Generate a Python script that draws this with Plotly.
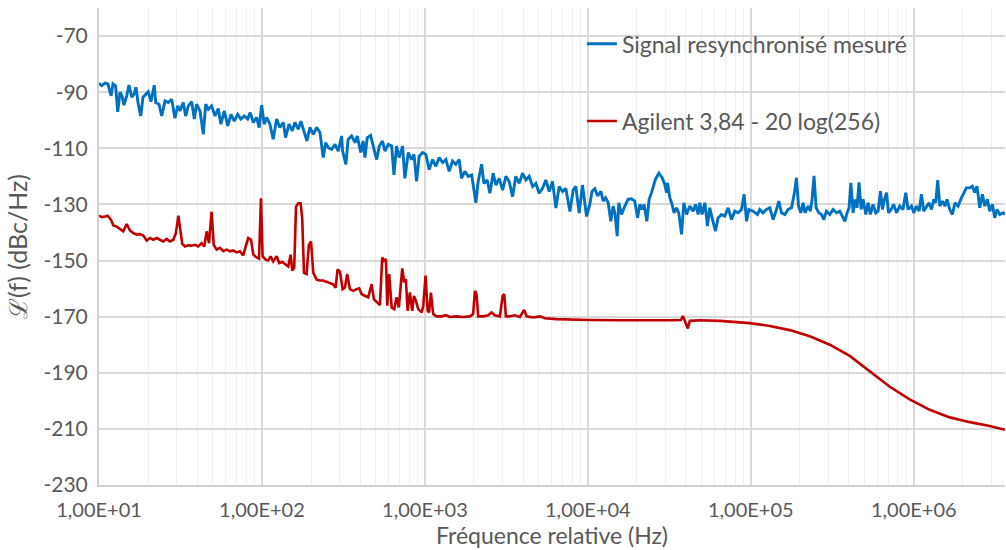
import plotly.graph_objects as go

# Frequency positions stored as decades (log10 of Hz), values in dBc/Hz
blue_logf = [1.000, 1.017, 1.037, 1.055, 1.074, 1.086, 1.102, 1.115, 1.129, 1.141, 1.153, 1.170, 1.184, 1.201, 1.215, 1.227, 1.239, 1.256, 1.270, 1.287,
             1.302, 1.319, 1.339, 1.348, 1.368, 1.385, 1.405, 1.425, 1.446, 1.466, 1.483, 1.497, 1.517, 1.532, 1.548, 1.569, 1.585, 1.599, 1.620, 1.640,
             1.655, 1.671, 1.691, 1.712, 1.732, 1.748, 1.769, 1.790, 1.810, 1.830, 1.851, 1.871, 1.891, 1.912, 1.928, 1.947, 1.967, 1.983, 1.998, 2.014,
             2.029, 2.049, 2.069, 2.090, 2.110, 2.131, 2.145, 2.166, 2.186, 2.202, 2.223, 2.239, 2.260, 2.276, 2.294, 2.315, 2.336, 2.356, 2.376, 2.391,
             2.407, 2.428, 2.448, 2.468, 2.489, 2.495, 2.515, 2.529, 2.550, 2.571, 2.585, 2.606, 2.621, 2.632, 2.646, 2.667, 2.683, 2.704, 2.720, 2.740,
             2.755, 2.775, 2.796, 2.810, 2.826, 2.842, 2.863, 2.877, 2.898, 2.918, 2.933, 2.949, 2.965, 2.986, 3.006, 3.026, 3.047, 3.067, 3.088, 3.109,
             3.129, 3.149, 3.170, 3.190, 3.210, 3.225, 3.245, 3.266, 3.287, 3.313, 3.327, 3.348, 3.362, 3.382, 3.399, 3.419, 3.436, 3.456, 3.477, 3.497,
             3.517, 3.538, 3.558, 3.579, 3.599, 3.620, 3.640, 3.661, 3.681, 3.701, 3.722, 3.742, 3.763, 3.783, 3.804, 3.824, 3.845, 3.865, 3.890, 3.910,
             3.926, 3.947, 3.967, 3.992, 4.012, 4.026, 4.043, 4.060, 4.080, 4.094, 4.109, 4.125, 4.141, 4.155, 4.166, 4.180, 4.190, 4.207, 4.227, 4.247,
             4.268, 4.288, 4.305, 4.319, 4.333, 4.345, 4.362, 4.376, 4.391, 4.401, 4.415, 4.436, 4.456, 4.472, 4.483, 4.489, 4.503, 4.517, 4.529, 4.544,
             4.558, 4.575, 4.589, 4.606, 4.626, 4.646, 4.661, 4.677, 4.687, 4.701, 4.718, 4.734, 4.748, 4.765, 4.783, 4.799, 4.820, 4.840, 4.861, 4.882,
             4.902, 4.922, 4.943, 4.959, 4.974, 4.988, 5.014, 5.041, 5.055, 5.075, 5.096, 5.117, 5.137, 5.158, 5.172, 5.188, 5.209, 5.229, 5.250, 5.268,
             5.280, 5.293, 5.307, 5.321, 5.333, 5.352, 5.366, 5.376, 5.388, 5.401, 5.417, 5.434, 5.448, 5.464, 5.485, 5.505, 5.526, 5.546, 5.563, 5.577,
             5.591, 5.603, 5.614, 5.628, 5.640, 5.652, 5.664, 5.677, 5.689, 5.706, 5.720, 5.734, 5.750, 5.767, 5.781, 5.796, 5.808, 5.820, 5.833, 5.845,
             5.861, 5.877, 5.894, 5.914, 5.934, 5.951, 5.965, 5.986, 6.000, 6.017, 6.033, 6.047, 6.061, 6.078, 6.094, 6.109, 6.123, 6.135, 6.147, 6.160,
             6.176, 6.192, 6.204, 6.221, 6.237, 6.253, 6.272, 6.293, 6.307, 6.323, 6.344, 6.360, 6.374, 6.388, 6.405, 6.421, 6.436, 6.452, 6.466, 6.483,
             6.497, 6.511, 6.528, 6.548, 6.560]
blue_db = [-86.8, -87.7, -86.8, -87.1, -91.3, -87.0, -87.7, -97.0, -90.0, -91.3, -94.6, -91.3, -87.5, -91.8, -90.7, -88.2, -93.6, -98.5, -91.8, -90.7,
           -89.9, -93.4, -87.5, -93.7, -94.3, -98.5, -93.1, -93.7, -92.5, -99.3, -94.9, -96.7, -93.7, -98.5, -94.9, -93.4, -99.6, -94.3, -96.7, -105.0,
           -94.3, -96.1, -94.9, -98.5, -95.8, -101.4, -96.7, -102.0, -97.9, -100.3, -97.9, -99.6, -98.5, -99.6, -97.3, -100.8, -99.0, -102.6, -94.6, -101.4,
           -99.0, -101.4, -106.8, -99.6, -102.6, -100.8, -106.2, -101.4, -103.8, -100.8, -103.2, -100.3, -104.4, -107.4, -102.6, -105.0, -102.6, -104.4, -113.3, -108.0,
           -109.8, -110.4, -108.6, -111.0, -105.6, -111.0, -115.7, -106.8, -105.6, -108.0, -105.6, -111.5, -107.4, -113.3, -106.3, -105.4, -109.2, -114.0, -109.2, -107.4,
           -111.0, -108.6, -109.2, -119.5, -109.2, -113.3, -109.2, -120.7, -111.5, -114.0, -112.2, -121.8, -112.8, -111.5, -112.2, -117.6, -114.0, -116.4, -113.3, -115.1,
           -114.0, -118.2, -114.5, -115.7, -114.0, -120.7, -118.2, -120.0, -119.5, -129.4, -121.8, -115.7, -122.5, -121.3, -126.0, -118.9, -123.1, -120.7, -124.9, -120.0,
           -121.8, -127.2, -120.0, -122.5, -118.9, -121.3, -120.0, -123.6, -122.5, -126.0, -124.3, -121.3, -125.4, -121.8, -131.3, -123.6, -125.4, -124.3, -132.5, -124.9,
           -123.6, -133.1, -123.1, -134.3, -130.0, -125.3, -124.4, -127.0, -125.3, -128.8, -127.6, -129.4, -136.0, -130.6, -133.0, -141.3, -129.4, -133.6, -130.6, -128.2,
           -128.0, -128.8, -134.8, -130.0, -131.8, -130.0, -136.0, -128.2, -125.8, -123.5, -121.0, -118.9, -120.5, -122.9, -125.8, -122.3, -127.6, -130.0, -133.0, -131.2,
           -133.0, -140.7, -129.4, -133.6, -130.6, -132.4, -130.0, -133.6, -129.4, -133.6, -129.4, -137.7, -131.2, -135.4, -139.5, -134.8, -133.6, -134.2, -131.2, -135.4,
           -132.4, -133.0, -131.8, -126.4, -136.0, -131.8, -132.4, -133.6, -131.8, -133.0, -131.8, -131.2, -135.4, -131.8, -128.8, -133.0, -133.6, -131.8, -131.2, -125.8,
           -120.5, -130.6, -133.0, -129.4, -133.0, -130.6, -132.4, -128.2, -119.8, -131.2, -133.0, -133.6, -135.4, -132.4, -133.6, -131.8, -133.0, -132.4, -134.2, -136.0,
           -133.0, -131.2, -122.3, -133.0, -128.2, -131.2, -122.1, -131.8, -128.2, -133.6, -129.4, -133.6, -130.0, -133.0, -132.4, -125.3, -131.8, -128.2, -125.8, -133.0,
           -131.8, -130.0, -133.0, -130.6, -131.8, -125.8, -131.8, -130.6, -133.0, -130.6, -132.4, -126.4, -132.4, -130.6, -129.4, -131.8, -128.2, -129.4, -121.3, -130.6,
           -128.8, -130.6, -128.2, -131.8, -133.6, -129.4, -130.6, -127.6, -125.8, -124.1, -124.1, -123.5, -125.8, -123.5, -131.2, -126.4, -130.6, -128.2, -132.4, -130.0,
           -134.8, -131.8, -133.6, -133.0, -133.6]

red_logf = [1.000, 1.017, 1.037, 1.053, 1.074, 1.088, 1.109, 1.129, 1.149, 1.170, 1.190, 1.210, 1.231, 1.252, 1.272, 1.293, 1.313, 1.333, 1.354, 1.374,
            1.394, 1.415, 1.436, 1.456, 1.472, 1.487, 1.501, 1.511, 1.528, 1.548, 1.569, 1.589, 1.609, 1.630, 1.646, 1.661, 1.675, 1.691, 1.704, 1.722,
            1.742, 1.763, 1.783, 1.804, 1.824, 1.845, 1.865, 1.885, 1.900, 1.916, 1.933, 1.947, 1.967, 1.982, 1.994, 2.004, 2.023, 2.039, 2.053, 2.069,
            2.090, 2.106, 2.125, 2.145, 2.161, 2.176, 2.186, 2.198, 2.209, 2.223, 2.237, 2.247, 2.258, 2.274, 2.288, 2.301, 2.315, 2.336, 2.356, 2.376,
            2.397, 2.417, 2.437, 2.452, 2.464, 2.479, 2.495, 2.509, 2.523, 2.540, 2.560, 2.581, 2.597, 2.612, 2.632, 2.652, 2.673, 2.687, 2.707, 2.724,
            2.738, 2.748, 2.761, 2.769, 2.781, 2.796, 2.812, 2.826, 2.840, 2.861, 2.873, 2.883, 2.894, 2.908, 2.922, 2.933, 2.945, 2.959, 2.980, 2.990,
            3.004, 3.017, 3.026, 3.037, 3.051, 3.072, 3.102, 3.129, 3.153, 3.194, 3.235, 3.276, 3.296, 3.307, 3.317, 3.327, 3.358, 3.388, 3.409, 3.429,
            3.460, 3.477, 3.487, 3.497, 3.521, 3.552, 3.583, 3.609, 3.624, 3.664, 3.706, 3.736, 3.808, 3.910, 4.008, 4.196, 4.380, 4.534, 4.571, 4.583,
            4.595, 4.613, 4.626, 4.687, 4.810, 4.994, 5.117, 5.239, 5.362, 5.485, 5.607, 5.730, 5.853, 5.975, 6.098, 6.221, 6.344, 6.466, 6.560]
red_db = [-134.0, -134.5, -134.3, -134.0, -135.5, -137.5, -137.9, -138.8, -139.6, -137.0, -139.3, -140.2, -140.8, -140.6, -141.1, -142.9, -142.0, -142.6, -142.0, -142.6,
          -143.2, -142.3, -143.2, -142.6, -140.2, -134.0, -140.8, -144.1, -145.0, -144.6, -144.7, -144.4, -145.0, -143.8, -145.0, -139.6, -143.8, -132.6, -144.4, -146.1,
          -145.5, -146.7, -146.1, -146.7, -146.4, -147.1, -146.7, -148.2, -145.0, -142.0, -142.6, -147.9, -148.9, -149.3, -127.8, -148.5, -149.7, -150.0, -148.5, -150.3,
          -148.5, -150.9, -150.5, -151.5, -152.1, -147.9, -153.6, -152.6, -130.8, -129.6, -129.6, -134.9, -154.4, -154.8, -144.4, -143.2, -154.4, -156.8, -157.1, -157.1,
          -157.6, -157.9, -158.5, -159.7, -153.2, -154.0, -160.2, -159.6, -154.8, -160.2, -160.8, -160.2, -159.9, -162.0, -162.6, -163.1, -158.4, -163.8, -164.9, -165.9,
          -148.9, -150.1, -149.5, -166.1, -154.8, -166.7, -167.3, -163.1, -166.7, -152.8, -157.8, -156.6, -167.9, -161.4, -167.9, -162.6, -164.4, -167.3, -168.5, -166.1,
          -155.4, -167.9, -168.5, -161.4, -169.1, -169.9, -169.9, -169.5, -170.1, -169.9, -170.1, -169.9, -169.1, -160.8, -162.0, -169.9, -169.9, -169.5, -168.5, -169.5,
          -169.9, -162.6, -162.0, -169.9, -169.9, -169.5, -170.1, -167.6, -169.9, -170.3, -169.9, -170.6, -170.9, -171.1, -171.2, -171.3, -171.4, -171.3, -171.2, -169.8,
          -171.5, -174.2, -171.5, -171.3, -171.5, -172.3, -173.3, -174.8, -177.0, -180.0, -184.0, -189.5, -195.0, -199.5, -203.2, -205.9, -207.6, -209.0, -210.3]

series_names = ["Signal resynchronisé mesuré", "Agilent 3,84 - 20 log(256)"]
series_colors = ["#0070C0", "#C00000"]
x_tickvals = [1e1, 1e2, 1e3, 1e4, 1e5, 1e6]
x_ticktext = ["1,00E+01", "1,00E+02", "1,00E+03", "1,00E+04", "1,00E+05", "1,00E+06"]
y_tickvals = [-230, -210, -190, -170, -150, -130, -110, -90, -70]
y_ticktext = ["-230", "-210", "-190", "-170", "-150", "-130", "-110", "-90", "-70"]

blue_f = [10 ** v for v in blue_logf]
red_f = [10 ** v for v in red_logf]

FONT = "Lato"
TXT = "#595959"

fig = go.Figure()
fig.add_trace(go.Scatter(x=blue_f, y=blue_db, mode="lines", name=series_names[0], showlegend=True,
                         line=dict(color=series_colors[0], width=2.9), legend="legend"))
fig.add_trace(go.Scatter(x=red_f, y=red_db, mode="lines", name=series_names[1], showlegend=True,
                         line=dict(color=series_colors[1], width=2.6), legend="legend2"))

legend_common = dict(font=dict(family=FONT, size=23, color=TXT), bgcolor="rgba(0,0,0,0)",
                     borderwidth=0, xanchor="left", yanchor="middle", itemwidth=30)
fig.update_layout(
    width=1006, height=550,
    margin=dict(l=99, r=1, t=8, b=65, autoexpand=False),
    showlegend=True,
    paper_bgcolor="white", plot_bgcolor="white",
    font=dict(family=FONT, color=TXT),
    legend=dict(x=0.533, y=0.925, **legend_common),
    legend2=dict(x=0.533, y=0.763, **legend_common),
    xaxis=dict(type="log", range=[1, 6.56], tickvals=x_tickvals, ticktext=x_ticktext,
               automargin=False,
               showgrid=True, gridcolor="#d9d9d9", gridwidth=1.5,
               minor=dict(showgrid=True, gridcolor="#eeeeee", gridwidth=1.2, dtick="D1"),
               showline=True, linecolor="#d0d0d0", linewidth=1.5,
               ticks="", ticklabelstandoff=6, tickfont=dict(family=FONT, size=20, color=TXT),
               title=dict(text="Fréquence relative (Hz)", font=dict(family=FONT, size=23, color=TXT), standoff=0),
               zeroline=False),
    yaxis=dict(range=[-230, -60], tickvals=y_tickvals, ticktext=y_ticktext,
               automargin=False,
               showgrid=True, gridcolor="#d9d9d9", gridwidth=1.5,
               showline=True, linecolor="#d0d0d0", linewidth=2,
               ticks="", ticklabelstandoff=5, tickfont=dict(family=FONT, size=21, color=TXT),
               title=dict(text="ℒ(f) (dBc/Hz)", font=dict(family=FONT, size=25, color=TXT), standoff=9),
               zeroline=False),
)

# remove the default page margin so the 1006x550 figure fills the window exactly
fig.write_html("out.html", config={"displayModeBar": False},
               post_script="document.body.style.margin='0';document.documentElement.style.overflow='hidden';")
